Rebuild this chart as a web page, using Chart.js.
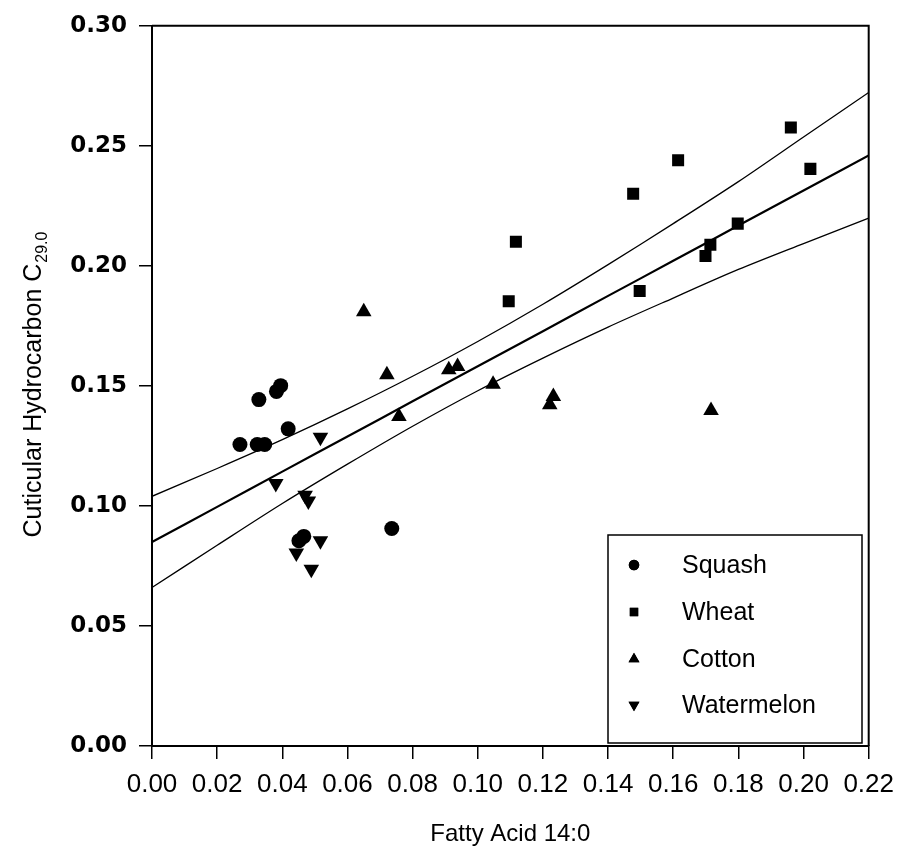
<!DOCTYPE html>
<html>
<head>
<meta charset="utf-8">
<script src="https://cdn.jsdelivr.net/npm/chart.js@4.4.1/dist/chart.umd.min.js"></script>
<style>
  html, body { margin: 0; padding: 0; background: #fff; }
  #wrap { width: 904px; height: 857px; }
</style>
</head>
<body>
<div id="wrap"><canvas id="grafico" width="904" height="857"></canvas></div>
<script>
// valores
const squashX = [0.0270, 0.0323, 0.0346, 0.0328, 0.0382, 0.0395, 0.0418, 0.0736, 0.0466, 0.0451];
const squashY = [0.1256, 0.1256, 0.1256, 0.1443, 0.1477, 0.1501, 0.1321, 0.0906, 0.0873, 0.0855];

const wheatX = [0.1117, 0.1095, 0.1477, 0.1615, 0.1497, 0.1699, 0.1714, 0.1798, 0.1961, 0.2021];
const wheatY = [0.2100, 0.1853, 0.2300, 0.2440, 0.1895, 0.2041, 0.2088, 0.2176, 0.2576, 0.2404];

const cottonX = [0.0650, 0.0721, 0.0758, 0.0911, 0.0938, 0.1047, 0.1232, 0.1221, 0.1716];
const cottonY = [0.1809, 0.1546, 0.1373, 0.1567, 0.1581, 0.1507, 0.1456, 0.1422, 0.1398];

const melonX = [0.0380, 0.0517, 0.0470, 0.0480, 0.0443, 0.0517, 0.0489];
const melonY = [0.1093, 0.1286, 0.1045, 0.1021, 0.0804, 0.0855, 0.0736];

// linha de regressão e faixa de confiança
const lineX = [0.00, 0.02, 0.04, 0.06, 0.08, 0.10, 0.12, 0.14, 0.16, 0.18, 0.20, 0.22];
const fitY = [0.0850, 0.0996, 0.1143, 0.1289, 0.1436, 0.1582, 0.1728, 0.1875, 0.2021, 0.2168, 0.2314, 0.2460];
const upperY = [0.1040, 0.1156, 0.1276, 0.1404, 0.1540, 0.1685, 0.1840, 0.2005, 0.2176, 0.2351, 0.2537, 0.2722];
const lowerY = [0.0660, 0.0836, 0.1010, 0.1174, 0.1332, 0.1480, 0.1616, 0.1745, 0.1866, 0.1985, 0.2093, 0.2199];

const xTicks = [0, 0.02, 0.04, 0.06, 0.08, 0.10, 0.12, 0.14, 0.16, 0.18, 0.20, 0.22];
const yTicks = [0, 0.05, 0.10, 0.15, 0.20, 0.25, 0.30];

const pares = (xs, ys) => xs.map((x, i) => ({ x, y: ys[i] }));

const series = [
    { label: 'Squash', style: 'circle', rot: 0, radius: 7.5, xs: squashX, ys: squashY },
    { label: 'Wheat', style: 'rect', rot: 0, radius: 8.5, xs: wheatX, ys: wheatY },
    { label: 'Cotton', style: 'triangle', rot: 0, radius: 9, xs: cottonX, ys: cottonY },
    { label: 'Watermelon', style: 'triangle', rot: 180, radius: 9, xs: melonX, ys: melonY }
];

const datasets = series.map(s => ({
    label: s.label,
    data: pares(s.xs, s.ys),
    pointStyle: s.style,
    rotation: s.rot,
    pointRadius: s.radius,
    backgroundColor: '#000',
    borderColor: '#000',
    borderWidth: 0,
    showLine: false
}));

const linha = (ys, w) => ({
    label: '',
    data: pares(lineX, ys),
    showLine: true,
    pointRadius: 0,
    borderColor: '#000',
    borderWidth: w,
    tension: 0.3,
    fill: false
});
datasets.push(linha(fitY, 2.2), linha(upperY, 1.3), linha(lowerY, 1.3));

// moldura, títulos e legenda desenhados à mão
const extras = {
    id: 'extras',
    afterDraw(chart) {
        const ctx = chart.ctx;
        const a = chart.chartArea;
        ctx.save();
        ctx.strokeStyle = '#000';
        ctx.lineWidth = 2;
        ctx.beginPath();
        ctx.moveTo(a.left, a.top);
        ctx.lineTo(a.right, a.top);
        ctx.lineTo(a.right, a.bottom);
        ctx.stroke();

        ctx.fillStyle = '#000';
        // título X
        ctx.font = '24px "Liberation Sans", Arial, sans-serif';
        ctx.textAlign = 'center';
        ctx.textBaseline = 'middle';
        ctx.fillText('Fatty Acid 14:0', (a.left + a.right) / 2, 834);

        // título Y com subscrito
        ctx.translate(32, 385);
        ctx.rotate(-Math.PI / 2);
        const main = 'Cuticular Hydrocarbon C';
        const sub = '29.0';
        ctx.font = '25px "Liberation Sans", Arial, sans-serif';
        const w1 = ctx.measureText(main).width;
        ctx.font = '16px "Liberation Sans", Arial, sans-serif';
        const w2 = ctx.measureText(sub).width;
        const x0 = -(w1 + w2) / 2;
        ctx.textAlign = 'left';
        ctx.textBaseline = 'alphabetic';
        ctx.font = '25px "Liberation Sans", Arial, sans-serif';
        ctx.fillText(main, x0, 9);
        ctx.font = '16px "Liberation Sans", Arial, sans-serif';
        ctx.fillText(sub, x0 + w1 + 1, 15);
        ctx.restore();

        // legenda
        ctx.save();
        ctx.strokeStyle = '#000';
        ctx.lineWidth = 1.5;
        ctx.fillStyle = '#fff';
        ctx.fillRect(608, 535, 254, 208);
        ctx.strokeRect(608, 535, 254, 208);
        ctx.fillStyle = '#000';
        ctx.font = '25px "Liberation Sans", Arial, sans-serif';
        ctx.textAlign = 'left';
        ctx.textBaseline = 'middle';
        const rows = [565, 612, 659, 705];
        series.forEach((s, i) => {
            Chart.helpers.drawPoint(ctx, {
                pointStyle: s.style, rotation: s.rot, radius: s.radius * 0.7, borderWidth: 0
            }, 634, rows[i]);
            ctx.fill();
            ctx.fillText(s.label, 682, rows[i] + 1);
        });
        ctx.restore();
    }
};

const eixo = {
    display: true,
    drawOnChartArea: false,
    drawTicks: true,
    tickLength: 13,
    color: '#000',
    lineWidth: 1.5
};

new Chart(document.getElementById('grafico'), {
    type: 'scatter',
    data: { datasets },
    options: {
        responsive: false,
        animation: false,
        layout: { padding: { top: 24, right: 33, left: 0, bottom: 0 } },
        plugins: { legend: { display: false }, tooltip: { enabled: false } },
        scales: {
            x: {
                type: 'linear',
                min: 0,
                max: 0.22,
                afterBuildTicks: s => { s.ticks = xTicks.map(v => ({ value: v })); },
                afterFit: s => { s.height = 111; },
                ticks: {
                    color: '#000',
                    padding: 10,
                    maxRotation: 0,
                    autoSkip: false,
                    font: { family: '"Liberation Sans", Arial, sans-serif', size: 26 },
                    callback: v => v.toFixed(2)
                },
                grid: eixo,
                border: { display: true, color: '#000', width: 2 }
            },
            y: {
                type: 'linear',
                min: 0,
                max: 0.30,
                afterBuildTicks: s => { s.ticks = yTicks.map(v => ({ value: v })); },
                afterFit: s => { s.width = 152; },
                ticks: {
                    color: '#000',
                    padding: 12,
                    font: { family: '"DejaVu Sans", sans-serif', size: 23, weight: 'bold' },
                    callback: v => v.toFixed(2)
                },
                grid: eixo,
                border: { display: true, color: '#000', width: 2 }
            }
        }
    },
    plugins: [extras]
});
</script>
</body>
</html>
